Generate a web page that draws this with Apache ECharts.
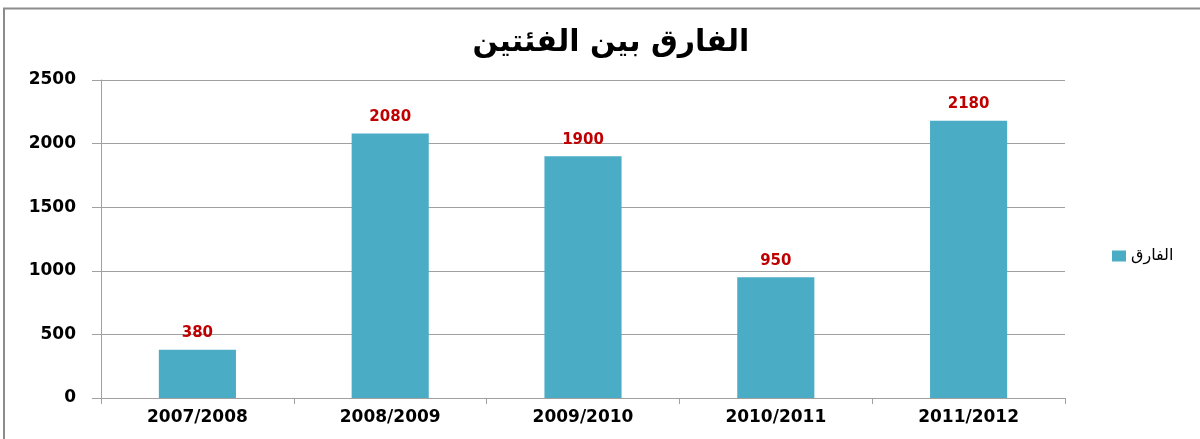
<!DOCTYPE html>
<html>
<head>
<meta charset="utf-8">
<script src="https://cdn.jsdelivr.net/npm/echarts@6/dist/echarts.min.js"></script>
<style>
  html, body { margin: 0; padding: 0; background: #fff; }
  #main { width: 1200px; height: 439px; }
</style>
</head>
<body>
<div id="main"></div>
<script>
  // بيانات الرسم
  var categories = ['2007/2008', '2008/2009', '2009/2010', '2010/2011', '2011/2012'];
  var diffValues = [380, 2080, 1900, 950, 2180];
  var seriesName = 'الفارق';
  var chartTitle = 'الفارق بين الفئتين';

  var myChart = echarts.init(document.getElementById('main'));
  var option = {
    animation: false,
    backgroundColor: '#fff',
    graphic: [{
      type: 'rect',
      shape: { x: 4, y: 8.5, width: 1220, height: 460 },
      style: { fill: 'none', stroke: '#8c8c8c', lineWidth: 2 },
      silent: true
    }],
    title: {
      text: chartTitle,
      left: 606,
      textAlign: 'center',
      top: 23,
      textStyle: {
        fontFamily: 'DejaVu Sans',
        fontSize: 30,
        fontWeight: 'bold',
        color: '#000'
      }
    },
    color: ['#4BACC6'],
    legend: {
      data: [{ name: seriesName, icon: 'rect' }],
      orient: 'vertical',
      left: 1107,
      top: 243,
      itemWidth: 14,
      itemHeight: 11,
      itemGap: 6,
      textStyle: {
        fontFamily: 'DejaVu Sans',
        fontSize: 16,
        color: '#000'
      }
    },
    grid: {
      left: 101,
      right: 135,
      top: 80,
      bottom: 41,
      containLabel: false
    },
    xAxis: {
      type: 'category',
      data: categories,
      axisLine: { lineStyle: { color: '#a0a0a0', width: 1 } },
      axisTick: { show: true, length: 6, lineStyle: { color: '#a0a0a0' } },
      axisLabel: {
        margin: 11,
        fontFamily: 'DejaVu Sans',
        fontSize: 17,
        fontWeight: 'bold',
        color: '#000'
      }
    },
    yAxis: {
      type: 'value',
      min: 0,
      max: 2500,
      interval: 500,
      axisLine: { show: true, lineStyle: { color: '#a0a0a0', width: 1 } },
      axisTick: { show: true, length: 9, lineStyle: { color: '#a0a0a0' } },
      splitLine: { lineStyle: { color: '#a0a0a0', width: 1 } },
      axisLabel: {
        margin: 25,
        formatter: function (v) { return String(v); },
        fontFamily: 'DejaVu Sans',
        fontSize: 17,
        fontWeight: 'bold',
        color: '#000'
      }
    },
    series: [{
      name: seriesName,
      type: 'bar',
      data: diffValues,
      barWidth: '40%',
      label: {
        show: true,
        position: 'top',
        distance: 9,
        fontFamily: 'DejaVu Sans',
        fontSize: 15,
        fontWeight: 'bold',
        color: '#C00000'
      }
    }]
  };
  myChart.setOption(option);
</script>
</body>
</html>
